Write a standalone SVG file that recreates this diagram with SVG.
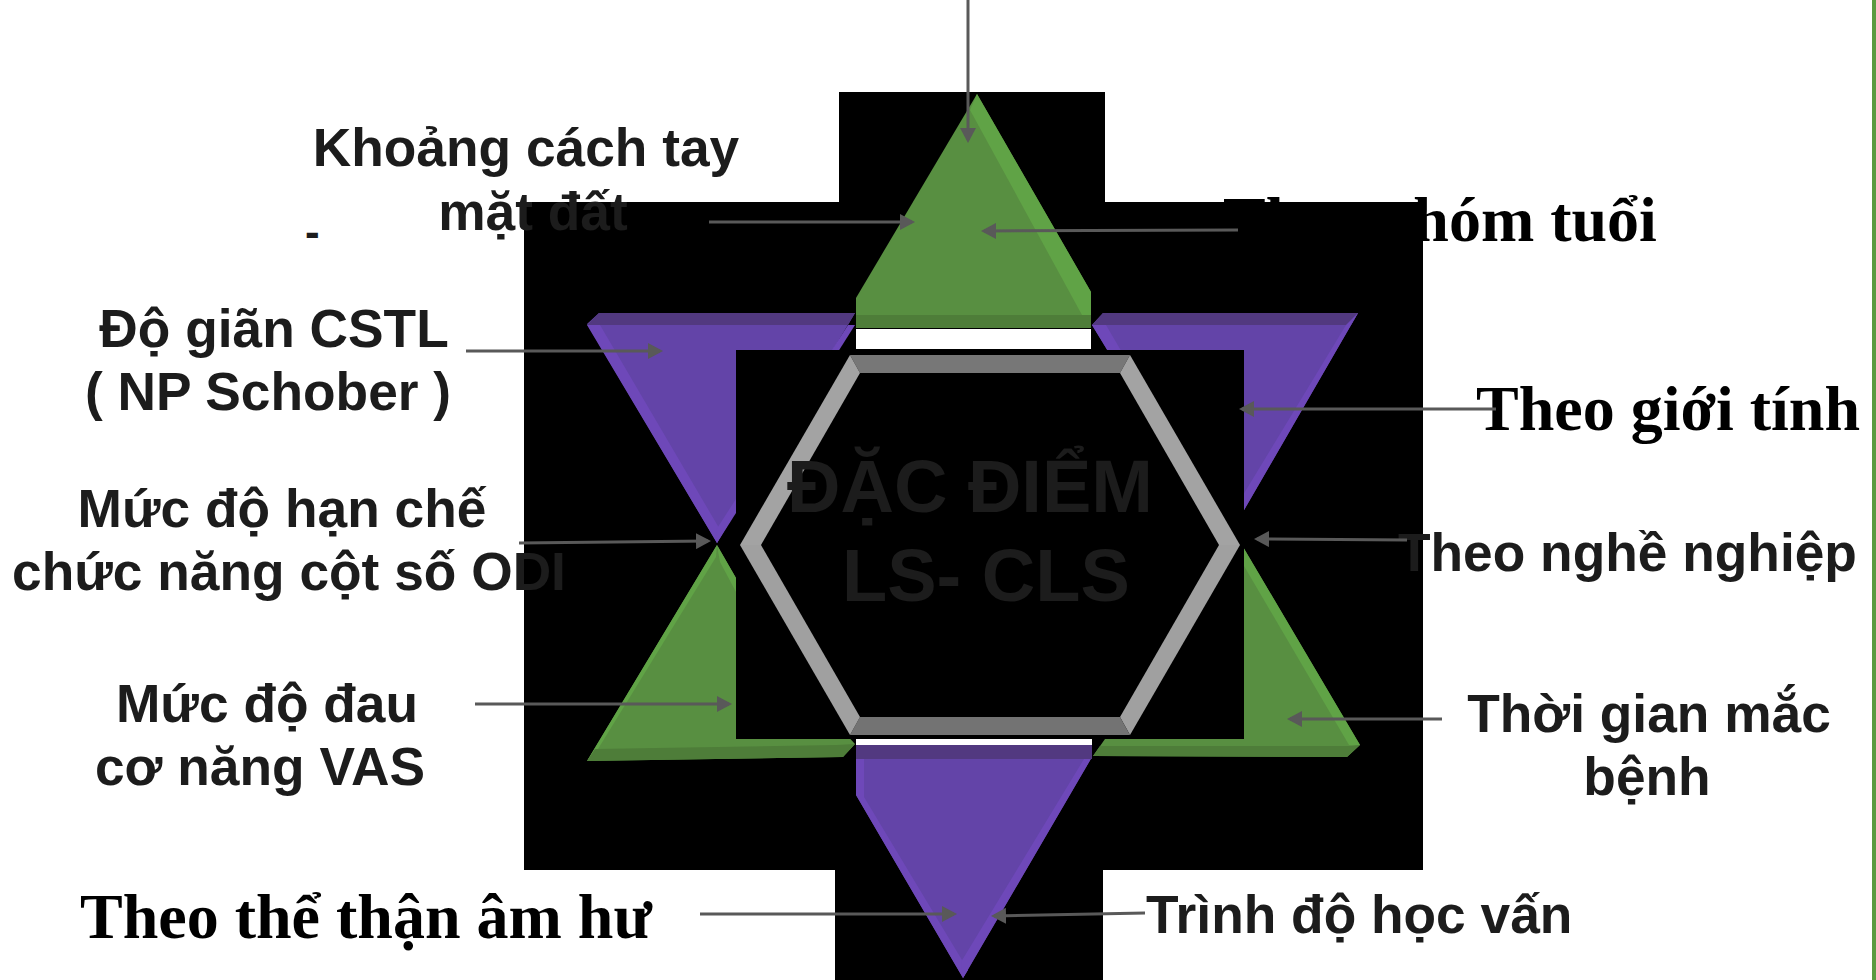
<svg xmlns="http://www.w3.org/2000/svg" width="1876" height="980" viewBox="0 0 1876 980">
<style>
.sans{font-family:"Liberation Sans",Arial,sans-serif;font-weight:bold;font-size:53.3px;fill:#1c1c1c}
.mid{text-anchor:middle}
.serif{font-family:"Liberation Serif","Times New Roman",serif;font-weight:bold;font-size:64px;fill:#000}
.title{font-family:"Liberation Sans",Arial,sans-serif;font-weight:bold;font-size:74px;fill:#1c1c1c}
.g{fill:#588f41}.gl{fill:#60a346}.gd{fill:#4e7d39}
.p{fill:#6344a8}.pl{fill:#6e48b9}.pd{fill:#523980}
.blk{fill:#000}.wht{fill:#fff}
.conn line{stroke:#595959;stroke-width:3;marker-end:url(#ah)}
</style>
<defs>
<marker id="ah" markerUnits="userSpaceOnUse" markerWidth="16" markerHeight="16" refX="12" refY="8" orient="auto">
<path d="M0,0 L15,8 L0,16 z" fill="#595959"/>
</marker>
</defs>
<rect x="0" y="0" width="1876" height="980" fill="#fff"/>
<rect x="1872" y="0" width="4" height="980" fill="#5b9b3f"/>
<path id="backdrop" class="blk" d="M839,92 H1105 V202 H1423 V870 H1103 V980 H835 V870 H524 V202 H839 Z"/>

<g id="tri-top">
<polygon class="g" points="977,94 1091,292 1091,328 856,328 856,298"/>
<polygon class="gl" points="977,94 1091,292 1091,315 1082,315 970,110"/>
<polygon class="gd" points="856,315 1091,315 1091,328 856,328"/>
</g>
<g id="tri-topleft">
<polygon class="p" points="599,313 855,313 717,543 587,324"/>
<polygon class="pd" points="599,313 855,313 848,325 587,325"/>
<polygon class="pl" points="587,325 600,325 722,533 717,543"/>
<polygon class="pl" points="848,325 855,325 717,543 716,530"/>
</g>
<g id="tri-topright">
<polygon class="p" points="1103,313 1358,313 1225,543 1092,325"/>
<polygon class="pd" points="1103,313 1358,313 1351,325 1092,325"/>
<polygon class="pl" points="1358,313 1225,543 1223,528 1346,325"/>
<polygon class="pl" points="1092,325 1106,325 1226,530 1225,543"/>
</g>
<g id="tri-bottomleft">
<polygon class="g" points="717,545 736,578 760,640 855,744 843,757 587,761"/>
<polygon class="gl" points="717,545 587,761 598,749 716,557"/>
<polygon class="gl" points="717,545 736,578 736,592 720,562"/>
<polygon class="gd" points="595,749 837,745 855,744 843,757 587,761"/>
</g>
<g id="tri-bottomright">
<polygon class="g" points="1236,535 1360,745 1347,757 1093,756 1105,739 1200,600"/>
<polygon class="gl" points="1236,535 1360,745 1349,745 1244,566"/>
<polygon class="gd" points="1100,746 1352,746 1360,745 1347,757 1093,756"/>
</g>
<g id="tri-bottom">
<polygon class="p" points="856,745 1092,745 1092,757 963,978 856,795"/>
<polygon class="pl" points="856,759 864,759 864,797 968,970 963,978 856,795"/>
<polygon class="pl" points="1092,757 963,978 961,962 1084,759"/>
<polygon class="pd" points="856,745 1092,745 1092,759 856,759"/>
</g>

<rect class="wht" x="856" y="329" width="235" height="20"/>
<rect class="wht" x="856" y="739" width="236" height="6"/>
<rect class="blk" x="736" y="350" width="508" height="389"/>

<g id="hexagon">
<polygon fill="#777" points="850,355 1130,355 1120,373 860,373"/>
<polygon fill="#a3a3a3" points="850,355 860,373 761,545 740,545"/>
<polygon fill="#a3a3a3" points="1130,355 1240,545 1219,545 1120,373"/>
<polygon fill="#a0a0a0" points="1240,545 1130,735 1120,717 1219,545"/>
<polygon fill="#737373" points="1130,735 850,735 860,717 1120,717"/>
<polygon fill="#a0a0a0" points="850,735 740,545 761,545 860,717"/>
<text class="title" x="787" y="512">ĐẶC ĐIỂM</text>
<text class="title" x="842" y="601">LS- CLS</text>
</g>

<g id="label-khoang">
<text class="sans mid" x="526" y="166">Khoảng cách tay</text>
<text class="sans mid" x="533" y="230">mặt đất</text>
</g>
<g id="label-dash"><text class="sans" x="305" y="247" style="font-size:44px">-</text></g>
<g id="label-nhomtuoi"><text class="serif" x="1223" y="241">Theo nhóm tuổi</text></g>
<g id="label-dogian">
<text class="sans mid" x="274" y="347">Độ giãn CSTL</text>
<text class="sans mid" x="268" y="410">( NP Schober )</text>
</g>
<g id="label-gioitinh"><text class="serif" x="1476" y="430">Theo giới tính</text></g>
<g id="label-odi">
<text class="sans mid" x="282" y="527">Mức độ hạn chế</text>
<text class="sans mid" x="289" y="590">chức năng cột số ODI</text>
</g>
<g id="label-nghenghiep"><text class="sans" x="1398" y="571">Theo nghề nghiệp</text></g>
<g id="label-vas">
<text class="sans mid" x="267" y="722">Mức độ đau</text>
<text class="sans mid" x="260" y="785">cơ năng VAS</text>
</g>
<g id="label-thoigian">
<text class="sans mid" x="1649" y="732">Thời gian mắc</text>
<text class="sans mid" x="1647" y="795">bệnh</text>
</g>
<g id="label-than"><text class="serif" x="80" y="938">Theo thể thận âm hư</text></g>
<g id="label-hocvan"><text class="sans" x="1146" y="933">Trình độ học vấn</text></g>

<g id="connectors" class="conn">
<line x1="968" y1="0" x2="968" y2="140"/>
<line x1="709" y1="222" x2="912" y2="222"/>
<line x1="1238" y1="230" x2="984" y2="231"/>
<line x1="466" y1="351" x2="660" y2="351"/>
<line x1="1496" y1="409" x2="1242" y2="409"/>
<line x1="519" y1="543" x2="708" y2="541"/>
<line x1="1407" y1="540" x2="1257" y2="539"/>
<line x1="475" y1="704" x2="729" y2="704"/>
<line x1="1442" y1="719" x2="1290" y2="719"/>
<line x1="700" y1="914" x2="954" y2="914"/>
<line x1="1145" y1="913" x2="994" y2="916"/>
</g>
</svg>
